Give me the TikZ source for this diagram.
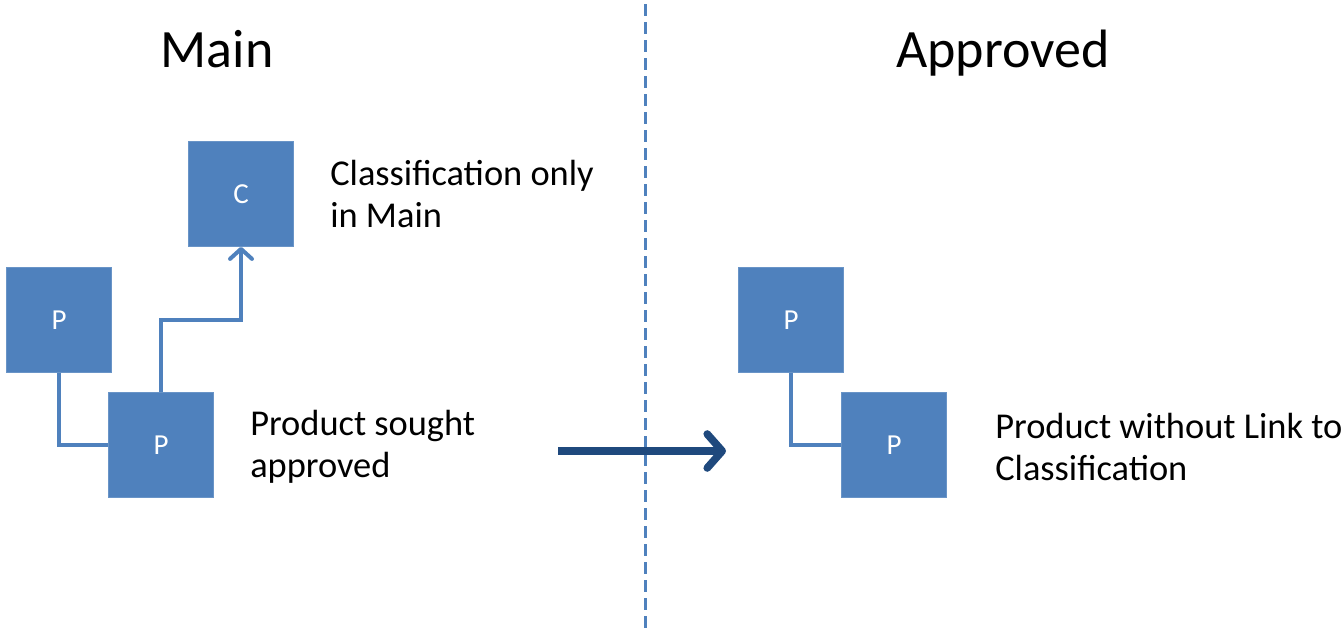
\documentclass[tikz,border=0pt]{standalone}
\usepackage{fontspec}
\setmainfont{Carlito}
\usetikzlibrary{arrows.meta,positioning}
\definecolor{boxblue}{HTML}{4F81BD}
\definecolor{movenavy}{HTML}{1F497D}
\tikzset{
  prodbox/.style={
    fill=boxblue,
    draw=boxblue!85!white,
    minimum size=52.5pt,
    inner sep=0pt,
    text=white,
    font=\fontsize{14.5}{16}\selectfont
  },
  notetext/.style={
    align=left,
    inner sep=0pt,
    font=\fontsize{18.2}{21}\selectfont
  },
  titletext/.style={
    anchor=base,
    inner sep=0pt,
    font=\fontsize{27}{32}\selectfont
  },
  link/.style={
    draw=boxblue,
    line width=2pt
  },
  linkarrow/.style={
    link,
    -{Straight Barb[length=5pt,width=11pt,line cap=round,line join=round]}
  },
  movearrow/.style={
    draw=movenavy,
    line width=3.8pt,
    -{Straight Barb[length=7.5pt,width=17pt,line cap=round,line join=round]}
  },
  divider/.style={
    draw=boxblue,
    line width=1.5pt,
    dash pattern=on 6pt off 3pt
  }
}
\begin{document}
\begin{tikzpicture}[x=0.5pt, y=-0.5pt, node distance=18pt]
\useasboundingbox (0,0) rectangle (1343,634);
\node[titletext] (maintitle) at (217,67) {Main};
\node[titletext] (apprtitle) at (1003,67) {Approved};
\draw[divider] (645,4) -- (645,632);
% main side
\node[prodbox] (class) at (241,194) {C};
\node[prodbox] (parent) at (59,320) {P};
\node[prodbox] (sought) at (161,445) {P};
\node[notetext, right=of class] (classnote) {Classification only\\in Main};
\node[notetext, right=of sought, yshift=-1pt] (soughtnote) {Product sought\\approved};
\draw[link] (parent.south) |- (sought.west);
\draw[linkarrow] (sought.north) -- ++(0,-72) -| (class.south);
% approved side
\node[prodbox] (apparent) at (791,320) {P};
\node[prodbox] (approved) at (894,445) {P};
\node[notetext, right=24pt of approved, yshift=-1pt] (approvednote) {Product without Link to\\Classification};
\draw[link] (apparent.south) |- (approved.west);
% move
\coordinate (movestart) at (558,451);
\coordinate (moveend) at (726,451);
\draw[movearrow] (movestart) -- (moveend);
\end{tikzpicture}
\end{document}
